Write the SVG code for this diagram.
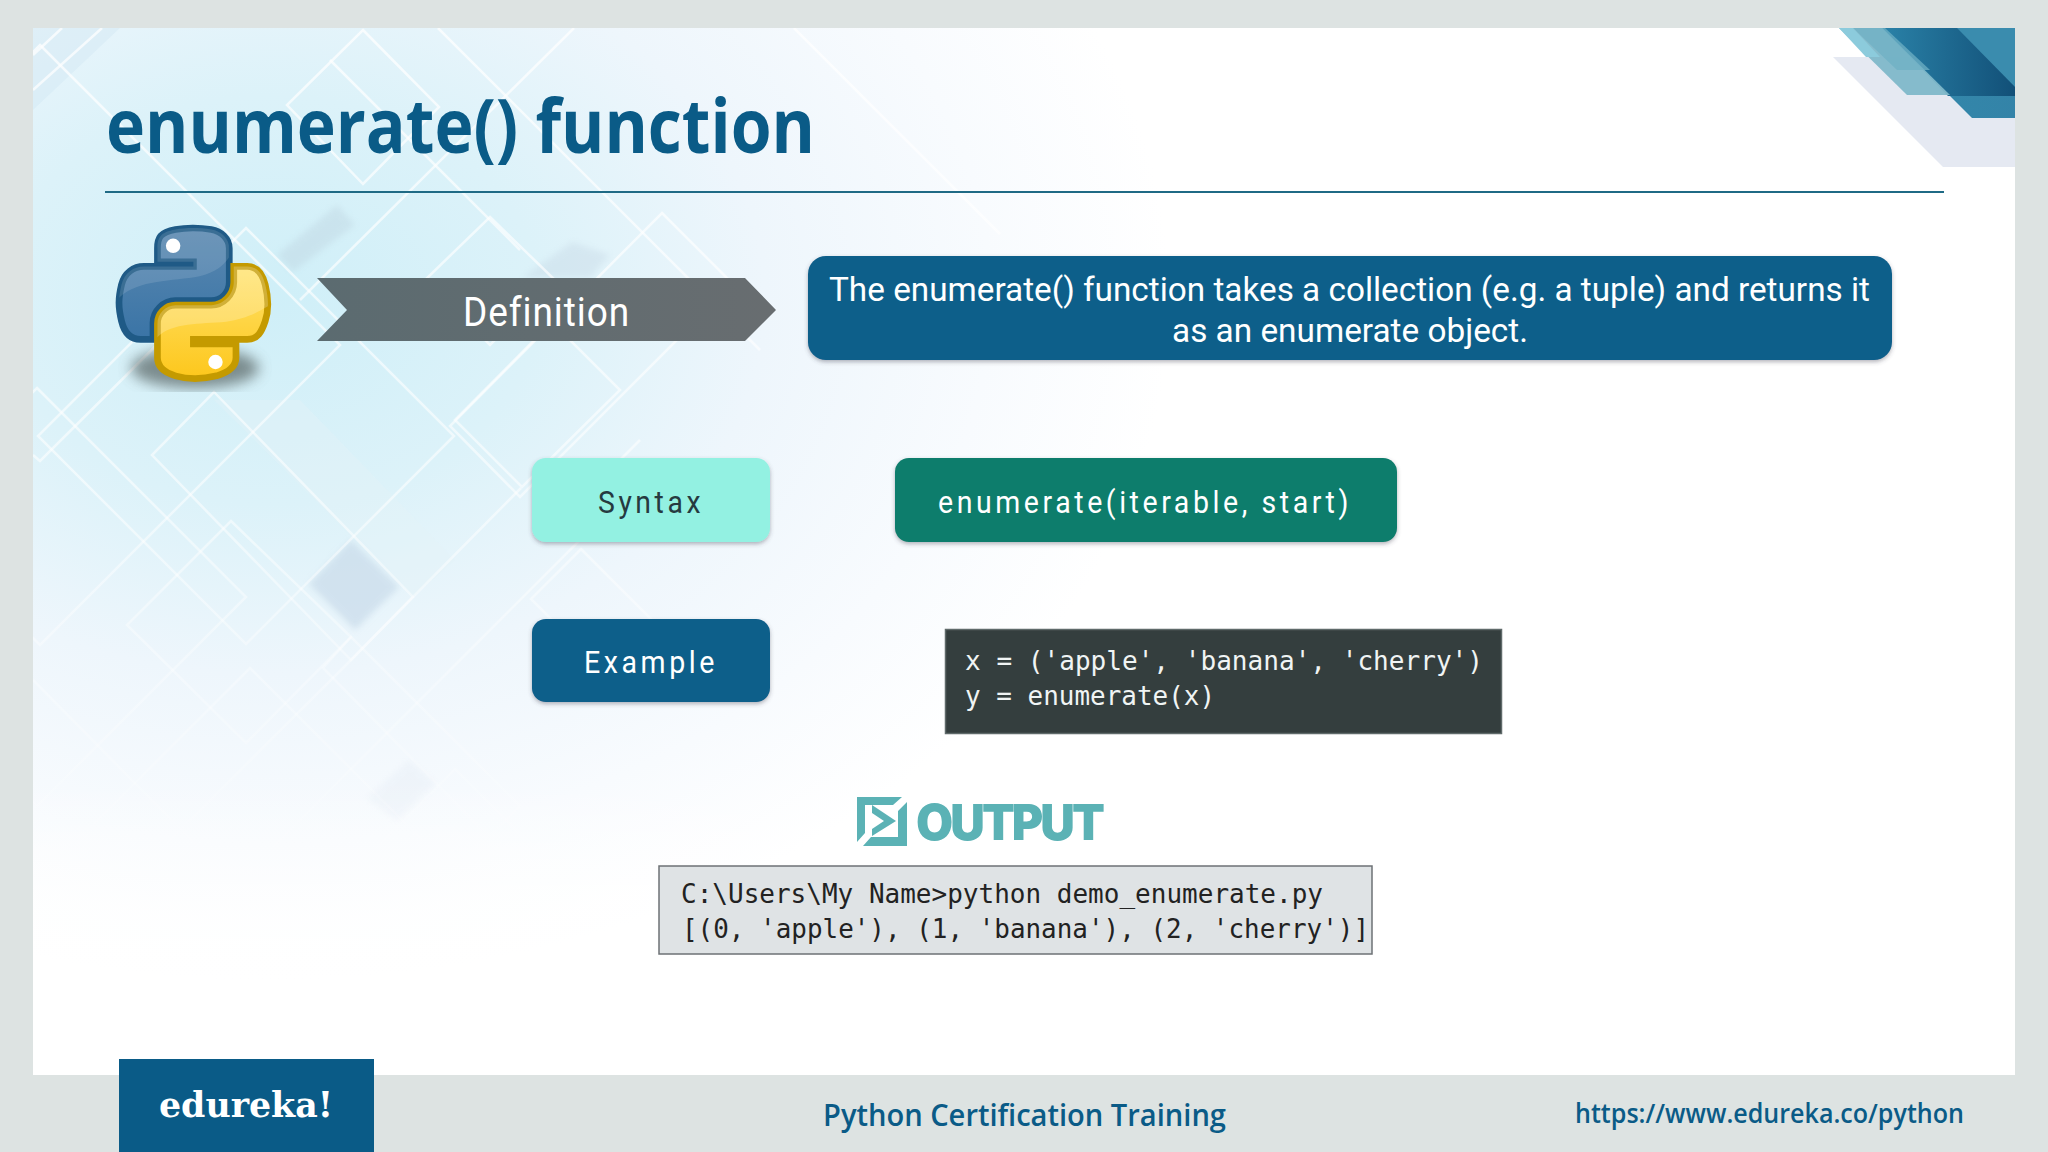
<svg xmlns="http://www.w3.org/2000/svg" width="2048" height="1152" viewBox="0 0 2048 1152">
<defs>
<radialGradient id="glow" gradientUnits="userSpaceOnUse" cx="0" cy="0" r="1" gradientTransform="translate(270 300) scale(900 680)">
<stop offset="0" stop-color="#cfeff8"/><stop offset=".3" stop-color="#dcf2f9"/><stop offset=".55" stop-color="#eef6fc"/><stop offset=".8" stop-color="#f8fbfe"/><stop offset="1" stop-color="#ffffff"/>
</radialGradient>
<linearGradient id="fade" x1="0" y1="780" x2="0" y2="990" gradientUnits="userSpaceOnUse"><stop offset="0" stop-color="#fff" stop-opacity="0"/><stop offset="1" stop-color="#fff"/></linearGradient>
<linearGradient id="ln" gradientUnits="userSpaceOnUse" x1="0" y1="0" x2="0" y2="900"><stop offset="0" stop-color="#fff" stop-opacity=".75"/><stop offset=".55" stop-color="#fff" stop-opacity=".55"/><stop offset="1" stop-color="#fff" stop-opacity="0"/></linearGradient>
<linearGradient id="arrowFill" x1="0" x2="1" y1="0" y2="0"><stop offset="0" stop-color="#5b6b70"/><stop offset="1" stop-color="#686d70"/></linearGradient>
<linearGradient id="blue" x1="0" y1="0" x2="0" y2="1"><stop offset="0" stop-color="#5a88b0"/><stop offset="1" stop-color="#3a74a6"/></linearGradient>
<linearGradient id="yel" x1="0" y1="0" x2="0" y2="1"><stop offset="0" stop-color="#ffe26a"/><stop offset="1" stop-color="#fdc71c"/></linearGradient>
<linearGradient id="c1" x1="0" x2="1" y1="0" y2="0"><stop offset="0" stop-color="#2a84a8"/><stop offset="1" stop-color="#2a7ea4"/></linearGradient>
<linearGradient id="c2" x1="0" x2="1" y1="0" y2="0"><stop offset="0" stop-color="#2a82a8"/><stop offset="1" stop-color="#125078"/></linearGradient>
<filter id="sh" x="-5%" y="-10%" width="110%" height="125%"><feDropShadow dx="0" dy="2" stdDeviation="2" flood-color="#445" flood-opacity=".4"/></filter>
<filter id="blur"><feGaussianBlur stdDeviation="7"/></filter>
<filter id="soft" x="-20%" y="-20%" width="140%" height="140%"><feGaussianBlur stdDeviation="3"/></filter>
<clipPath id="slide"><rect x="33" y="28" width="1982" height="1047"/></clipPath>
<clipPath id="bc"><path id="bp" d="M54.919,0 C50.335,.022 45.958,.413 42.106,1.095 C30.76,3.099 28.7,7.295 28.7,15.032 V25.25 H55.513 V28.656 H18.637 C10.845,28.656 4.022,33.34 1.888,42.25 C-.574,52.463 -.683,58.836 1.888,69.5 C3.794,77.438 8.346,83.094 16.138,83.094 H25.356 V70.844 C25.356,61.994 33.013,54.188 42.106,54.188 H68.888 C76.343,54.188 82.294,48.049 82.294,40.563 V15.032 C82.294,7.766 76.164,2.308 68.888,1.095 C64.282,.328 59.503,-.02 54.919,0 Z"/></clipPath>
<clipPath id="yc"><path id="yp" d="M85.638,28.657 V40.563 C85.638,49.794 77.812,57.563 68.888,57.563 H42.106 C34.77,57.563 28.7,63.841 28.7,71.188 V96.719 C28.7,103.985 35.019,108.259 42.106,110.344 C50.593,112.839 60.732,113.29 72.888,110.344 C79.638,108.389 87.294,104.455 87.294,96.719 V86.5 H55.513 V83.094 H95.7 C103.492,83.094 106.396,77.658 109.106,69.5 C111.906,61.102 111.788,53.025 109.106,42.25 C107.18,34.492 103.502,28.657 95.7,28.657 Z"/></clipPath>
</defs>
<style>
.din{font-family:Roboto,"Liberation Sans",sans-serif}
.mono{font-family:"DejaVu Sans Mono","Liberation Mono",monospace}
.os{font-family:"Open Sans","Noto Sans",sans-serif}
.d{fill:none;stroke:url(#ln);stroke-width:2.5}
.f{font-size:32px;fill:#fff;letter-spacing:4px}
</style>
<rect width="2048" height="1152" fill="#dde3e2"/>
<g id="slide-background" clip-path="url(#slide)">
<rect x="33" y="28" width="1982" height="1047" fill="#fff"/>
<rect x="33" y="28" width="1300" height="1000" fill="url(#glow)"/>
<polygon points="33,28 120,28 33,110" fill="#cfe6f3" opacity=".4"/>
<polygon points="351,540 399,587 355,630 309,584" fill="#c9dbea" opacity=".7" filter="url(#soft)"/>
<polygon points="337,205 277,255 293,272 355,225" fill="#bcd2de" opacity=".4" filter="url(#soft)"/>
<polygon points="572,242 522,278 590,278 610,255" fill="#c5d7e4" opacity=".4" filter="url(#soft)"/>
<polygon points="409,760 367,798 397,821 436,783" fill="#e4ecf5" opacity=".4" filter="url(#soft)"/>
<polygon points="214,400 413,597 455,560 300,400" fill="#e3f3f8" opacity=".4"/>
<g id="diamonds">
<polygon class="d" points="246,228 454,436 246,644 38,436"/>
<polygon class="d" points="363,30 439,107 363,184 287,105"/>
<polygon class="d" points="40,45 340,345 40,645 -260,345"/>
<polygon class="d" points="37,388 246,597 37,806 -172,597"/>
<polygon class="d" points="214,392 413,597 351,660 152,455"/>
<polygon class="d" points="231,521 351,637 246,743 127,625"/>
<polygon class="d" points="490,217 555,280 490,345 425,280"/>
<polygon class="d" points="662,213 733,284 520,497 450,426"/>
<polygon class="d" points="455,420 552,322 620,390 522,487"/>
<polygon class="d" points="581,549 660,628 610,678 531,599"/>
<polygon class="d" points="250,668 440,858 250,1048 60,858"/>
<polygon class="d" points="323,668 351,637 520,806 489,837"/>
<polygon class="d" points="455,769 600,914 525,989 380,844"/>
<polyline class="d" points="438,28 760,350"/>
<polyline class="d" points="574,28 300,300"/>
<polyline class="d" points="102,28 33,90"/>
<polyline class="d" points="62,28 33,55"/>
<polyline class="d" points="33,455 40,461 190,312"/>
<polyline class="d" points="794,28 1000,234"/>
<polyline class="d" points="330,60 520,250"/>
<polyline class="d" points="521,488 413,597 351,660 150,860"/>
<polyline class="d" points="33,680 270,920"/>
<polyline class="d" points="600,520 400,720 210,910"/>
<polyline class="d" points="640,440 540,540"/>
</g>
<rect x="33" y="780" width="1400" height="295" fill="url(#fade)"/>
<g id="corner-decoration">
<polygon points="1833,57 2015,57 2015,167 1943,167" fill="#e5e9f2"/>
<polygon points="1882,28 2015,28 2015,118 1972,118" fill="url(#c1)" opacity=".95"/>
<polygon points="1957,28 2015,28 2015,87" fill="#3a8cae"/>
<polygon points="1882,28 1957,28 2015,87 2015,96 1948,96" fill="url(#c2)"/>
<polygon points="1839,28 1882,28 1950,95 1907,95" fill="#7fb8c9" opacity=".95"/>
<polygon points="1853,28 1885,28 1930,70 1897,70" fill="#6fb0c4" opacity=".75"/>
<polygon points="1839,28 1853,28 1880,57 1866,57" fill="#8ccbdc"/>
</g>
</g>
<g id="title">
<text x="106" y="153" class="os" font-size="75" font-weight="700" fill="#0a5b87" textLength="709" lengthAdjust="spacingAndGlyphs">enumerate() function</text>
<rect x="105" y="191" width="1839" height="2" fill="#1f6a85"/>
</g>
<g id="python-logo">
<ellipse cx="195" cy="368" rx="64" ry="20" fill="#5d6b6b" opacity=".75" filter="url(#blur)"/>
<g transform="translate(119 228) scale(1.34)">
<use href="#bp" fill="url(#blue)" stroke="#1f5a86" stroke-width="5"/>
<path clip-path="url(#bc)" d="M0,52 C15,38 40,40 60,36 C72,33 78,28 82,22 V0 H0 Z" fill="#fff" opacity=".12"/>
<circle cx="40.4" cy="13.3" r="5.4" fill="#fff"/>
<use href="#yp" fill="url(#yel)" stroke="#c49a00" stroke-width="5"/>
<path clip-path="url(#yc)" d="M28,82 C40,70 60,72 80,70 C92,68 100,65 112,58 V28 H28 Z" fill="#fff" opacity=".22"/>
<circle cx="72" cy="100" r="5.4" fill="#fff"/>
</g>
</g>
<g id="definition-label">
<polygon points="317,278 745,278 776,310 745,341 317,341 347,310" fill="url(#arrowFill)"/>
<text x="463" y="326" class="din" font-size="40" fill="#fff" letter-spacing="1" textLength="167" lengthAdjust="spacingAndGlyphs">Definition</text>
</g>
<g id="definition-text">
<rect x="808" y="256" width="1084" height="104" rx="18" fill="#0a5e8a" filter="url(#sh)"/>
<text x="829" y="301" class="din" font-size="34" fill="#fff" textLength="1041" lengthAdjust="spacingAndGlyphs">The enumerate() function takes a collection (e.g. a tuple) and returns it</text>
<text x="1172" y="342" class="din" font-size="34" fill="#fff" textLength="356" lengthAdjust="spacingAndGlyphs">as an enumerate object.</text>
</g>
<g id="syntax-label">
<rect x="532" y="458" width="238" height="84" rx="14" fill="#93f1e2" filter="url(#sh)"/>
<text x="598" y="513" class="din f" style="fill:#263a40" textLength="106" lengthAdjust="spacingAndGlyphs">Syntax</text>
</g>
<g id="syntax-value">
<rect x="895" y="458" width="502" height="84" rx="14" fill="#0f7d6c" filter="url(#sh)"/>
<text x="938" y="513" class="din f" textLength="414" lengthAdjust="spacingAndGlyphs">enumerate(iterable, start)</text>
</g>
<g id="example-label">
<rect x="532" y="619" width="238" height="83" rx="14" fill="#0a5e8a" filter="url(#sh)"/>
<text x="584" y="673" class="din f" textLength="134" lengthAdjust="spacingAndGlyphs">Example</text>
</g>
<g id="example-code">
<rect x="945.500" y="629.500" width="556" height="104" fill="#343e3e" stroke="#5f6a6a" stroke-width="1.500"/>
<text x="965" y="670" class="mono" font-size="26" fill="#f0f4f4" textLength="518" lengthAdjust="spacingAndGlyphs">x = ('apple', 'banana', 'cherry')</text>
<text x="965" y="705" class="mono" font-size="26" fill="#f0f4f4" textLength="250" lengthAdjust="spacingAndGlyphs">y = enumerate(x)</text>
</g>
<g id="output-heading" fill="#5bb2b5">
<polygon points="857,797 902,797 893,805 865,805 865,833 857,842"/>
<polygon points="907,802 907,846 863,846 871,837 898,837 898,811"/>
<polygon points="872,805 896,821 872,836 872,829 884,821 872,813"/>
<text x="916" y="840" font-family="Inter,Lato,sans-serif" font-weight="900" font-size="49" letter-spacing="-3" textLength="186" lengthAdjust="spacingAndGlyphs">OUTPUT</text>
</g>
<g id="output-console">
<rect x="659" y="866" width="713" height="88" fill="#dfe3e5" stroke="#6d7275" stroke-width="1.500"/>
<text x="681" y="903" class="mono" font-size="26" fill="#222" textLength="642" lengthAdjust="spacingAndGlyphs">C:\Users\My Name&gt;python demo_enumerate.py</text>
<text x="682" y="938" class="mono" font-size="26" fill="#222" textLength="687" lengthAdjust="spacingAndGlyphs">[(0, 'apple'), (1, 'banana'), (2, 'cherry')]</text>
</g>
<g id="footer">
<rect x="119" y="1059" width="255" height="93" fill="#0a5b87"/>
<text x="159" y="1117" font-family="'DejaVu Serif','Liberation Serif',serif" font-weight="700" font-size="36" fill="#fff" textLength="174" lengthAdjust="spacingAndGlyphs">edureka!</text>
<text x="823" y="1126" class="os" font-size="30" font-weight="600" fill="#0a5b87" textLength="403" lengthAdjust="spacingAndGlyphs">Python Certification Training</text>
<text x="1575" y="1123" class="os" font-size="27" font-weight="600" fill="#0a5b87" textLength="389" lengthAdjust="spacingAndGlyphs">https://www.edureka.co/python</text>
</g>
</svg>
